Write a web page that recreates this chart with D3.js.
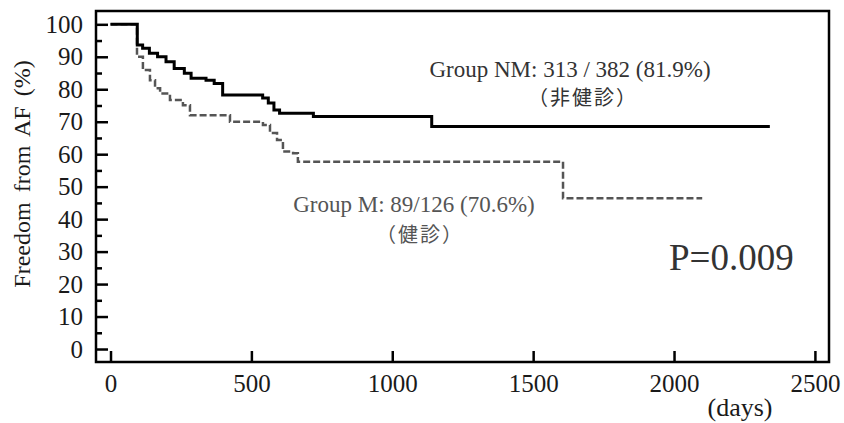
<!DOCTYPE html>
<html>
<head>
<meta charset="utf-8">
<script src="https://cdn.jsdelivr.net/npm/d3@7"></script>
<style>
  body { margin: 0; background: #fff; }
  text { font-family: "Liberation Serif", "Times New Roman", serif; }
  .cjk { font-family: "Noto Sans CJK JP", sans-serif; }
</style>
</head>
<body>
<div id="chart"></div>
<script>
// Group NM (non-screened), solid line: step times (days) and survival (%)
const nmDays = [0, 95, 114, 138, 167, 197, 226, 262, 286, 339, 368, 398, 540, 560, 580, 600, 720, 1140];
const nmSurv = [100, 93.6, 92.6, 91.1, 90.0, 88.5, 86.4, 84.9, 83.4, 82.8, 81.8, 78.2, 77.3, 75.8, 73.6, 72.6, 71.6, 68.5];
const nmEnd = 2340;

// Group M (screened), dashed line
const mDays = [0, 94, 115, 140, 158, 176, 211, 257, 282, 424, 541, 566, 591, 612, 648, 665, 1606];
const mSurv = [100, 90.0, 85.9, 82.8, 80.3, 78.7, 76.7, 75.1, 72.0, 70.0, 69.0, 66.5, 64.4, 60.8, 60.3, 57.7, 46.4];
const mEnd = 2100;

const xTicks = [0, 500, 1000, 1500, 2000, 2500];
const yMajor = [0, 10, 20, 30, 40, 50, 60, 70, 80, 90, 100];
const yMinor = [5, 15, 25, 35, 45, 55, 65, 75, 85, 95];

const width = 844, height = 423;
const frame = { left: 96, top: 11, right: 829, bottom: 362 };

const svg = d3.select("#chart")
    .append("svg")
    .attr("width", width)
    .attr("height", height);

const x = d3.scaleLinear().domain([-51.5, 2550]).range([frame.left, frame.right]);
const y = d3.scaleLinear().domain([-4, 104.1]).range([frame.bottom, frame.top]);

const serif = '"Liberation Serif", "Times New Roman", serif';

// y axis, ticks point inward
svg.append("g")
    .attr("transform", `translate(${frame.left},0)`)
    .attr("font-family", serif)
    .call(d3.axisLeft(y).tickValues(yMajor).tickSize(-12).tickPadding(13).tickFormat(d3.format("d")))
    .call(g => g.select(".domain").remove())
    .call(g => g.selectAll("line").attr("stroke", "#000").attr("stroke-width", 2.5))
    .call(g => g.selectAll("text").attr("font-size", 25).attr("fill", "#1a1a1a"));

svg.append("g")
    .attr("transform", `translate(${frame.left},0)`)
    .call(d3.axisLeft(y).tickValues(yMinor).tickSize(-6).tickFormat(""))
    .call(g => g.select(".domain").remove())
    .call(g => g.selectAll("line").attr("stroke", "#000").attr("stroke-width", 2.5));

// x axis
svg.append("g")
    .attr("transform", `translate(0,${frame.bottom})`)
    .attr("font-family", serif)
    .call(d3.axisBottom(x).tickValues(xTicks).tickSize(-11).tickPadding(12).tickFormat(d3.format("d")))
    .call(g => g.select(".domain").remove())
    .call(g => g.selectAll("line").attr("stroke", "#000").attr("stroke-width", 2.5))
    .call(g => g.selectAll("text").attr("font-size", 25).attr("fill", "#1a1a1a"));

// frame
svg.append("rect")
    .attr("x", frame.left)
    .attr("y", frame.top)
    .attr("width", frame.right - frame.left)
    .attr("height", frame.bottom - frame.top)
    .attr("fill", "none")
    .attr("stroke", "#000")
    .attr("stroke-width", 2.5);

const line = d3.line()
    .x(d => x(d[0]))
    .y(d => y(d[1]))
    .curve(d3.curveStepAfter);

const nmPts = nmDays.map((d, i) => [d, nmSurv[i]]);
nmPts.push([nmEnd, nmSurv[nmSurv.length - 1]]);
const mPts = mDays.map((d, i) => [d, mSurv[i]]);
mPts.push([mEnd, mSurv[mSurv.length - 1]]);

svg.append("path")
    .datum(mPts)
    .attr("d", line)
    .attr("fill", "none")
    .attr("stroke", "#555")
    .attr("stroke-width", 2.5)
    .attr("stroke-dasharray", "7,3");

svg.append("path")
    .datum(nmPts)
    .attr("d", line)
    .attr("fill", "none")
    .attr("stroke", "#000")
    .attr("stroke-width", 3);

// labels
svg.append("text")
    .attr("transform", "translate(30,174) rotate(-90)")
    .attr("text-anchor", "middle")
    .attr("font-size", 24)
    .attr("word-spacing", 4)
    .attr("fill", "#1a1a1a")
    .text("Freedom from AF (%)");

svg.append("text")
    .attr("x", 740).attr("y", 416)
    .attr("text-anchor", "middle")
    .attr("font-size", 26)
    .attr("fill", "#1a1a1a")
    .text("(days)");

svg.append("text")
    .attr("x", 570).attr("y", 77)
    .attr("text-anchor", "middle")
    .attr("font-size", 23)
    .attr("fill", "#333")
    .text("Group NM: 313 / 382 (81.9%)");

svg.append("text")
    .attr("class", "cjk")
    .attr("x", 583).attr("y", 105)
    .attr("text-anchor", "middle")
    .attr("font-size", 20)
    .attr("letter-spacing", 2)
    .attr("fill", "#333")
    .text("（非健診）");

svg.append("text")
    .attr("x", 414).attr("y", 212)
    .attr("text-anchor", "middle")
    .attr("font-size", 23)
    .attr("fill", "#555")
    .text("Group M: 89/126 (70.6%)");

svg.append("text")
    .attr("class", "cjk")
    .attr("x", 420).attr("y", 242)
    .attr("text-anchor", "middle")
    .attr("font-size", 20)
    .attr("letter-spacing", 2)
    .attr("fill", "#555")
    .text("（健診）");

svg.append("text")
    .attr("x", 669).attr("y", 270)
    .attr("font-size", 37)
    .attr("fill", "#333")
    .text("P=0.009");
</script>
</body>
</html>
